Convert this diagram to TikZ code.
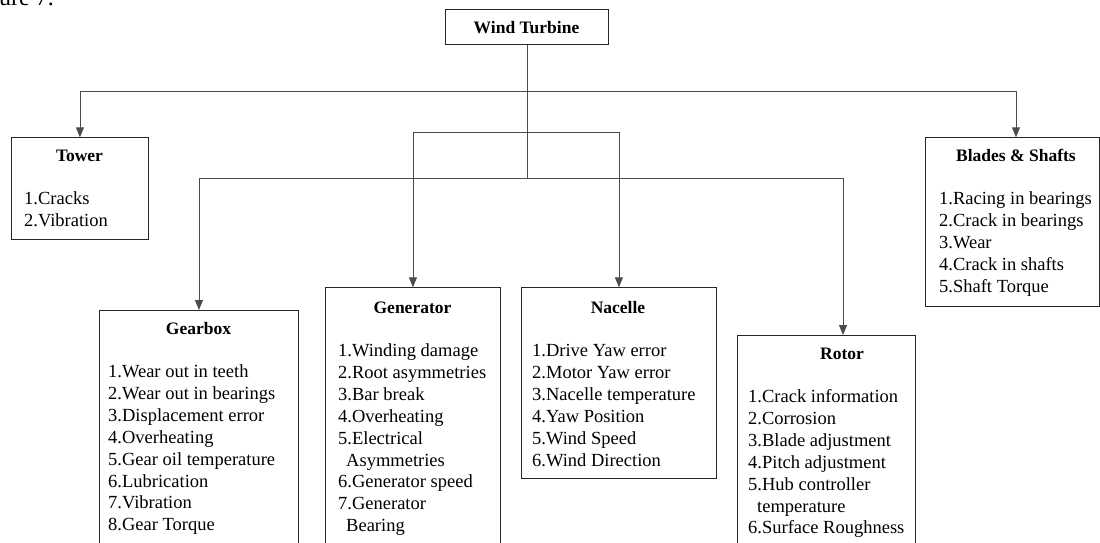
\documentclass[tikz,border=0pt]{standalone}
\usepackage{fontspec}
\setmainfont{Liberation Serif}
\usetikzlibrary{arrows.meta,calc}
\begin{document}
\begin{tikzpicture}[x=1pt,y=-1pt,
  box/.style={draw=black!85, line width=0.9pt, inner sep=0pt, anchor=north west},
  conn/.style={draw=black!70, line width=0.9pt},
  arr/.style={conn, -{Triangle[length=10pt,width=8pt]}},
  ttl/.style={font=\fontsize{17.5}{20}\selectfont\bfseries, inner sep=0pt, anchor=base},
  item/.style={font=\fontsize{18.5}{21.9}\selectfont, inner sep=0pt, anchor=base west},
  captxt/.style={font=\fontsize{24}{28}\selectfont, inner sep=0pt, anchor=base west}]
\useasboundingbox (0,0) rectangle (1100,542);
\clip (0,0) rectangle (1100,542);

% caption fragment
\node[captxt] (capfrag) at (-1,5) {ure 7.};

% boxes
\node[box, minimum width=163pt, minimum height=35pt] (wt) at (445,9) {};
\node[box, minimum width=137.6pt, minimum height=102pt] (tower) at (10.7,137.3) {};
\node[box, minimum width=174pt, minimum height=168.7pt] (blades) at (925,137.3) {};
\node[box, minimum width=199pt, minimum height=260pt] (gear) at (99,310) {};
\node[box, minimum width=175pt, minimum height=280pt] (gen) at (325,287.3) {};
\node[box, minimum width=195pt, minimum height=191pt] (nac) at (521,287.3) {};
\node[box, minimum width=178pt, minimum height=230pt] (rotor) at (737,335) {};

% titles
\node[ttl] (wt-t) at (526.5,33) {Wind Turbine};
\node[ttl] (tower-t) at (79.5,161) {Tower};
\node[ttl] (blades-t) at (1016,161) {Blades \& Shafts};
\node[ttl] (gear-t) at (198.5,334) {Gearbox};
\node[ttl] (gen-t) at (412.5,313) {Generator};
\node[ttl] (nac-t) at (618,313) {Nacelle};
\node[ttl] (rotor-t) at (842,359) {Rotor};

% item lists
\foreach \t [count=\i] in {1.Cracks, 2.Vibration}
  \node[item] (tw\i) at (24,{204.5+21.9*(\i-1)}) {\t};
\foreach \t [count=\i] in {1.Racing in bearings, 2.Crack in bearings, 3.Wear, 4.Crack in shafts, 5.Shaft Torque}
  \node[item] (bl\i) at (939,{204.5+21.9*(\i-1)}) {\t};
\foreach \t [count=\i] in {1.Wear out in teeth, 2.Wear out in bearings, 3.Displacement error, 4.Overheating, 5.Gear oil temperature, 6.Lubrication, 7.Vibration, 8.Gear Torque}
  \node[item] (gb\i) at (108,{377.5+21.9*(\i-1)}) {\t};
\foreach \t [count=\i] in {1.Winding damage, 2.Root asymmetries, 3.Bar break, 4.Overheating, 5.Electrical, \hspace*{8pt}Asymmetries, 6.Generator speed, 7.Generator, \hspace*{8pt}Bearing}
  \node[item] (gn\i) at (338,{356.5+21.9*(\i-1)}) {\t};
\foreach \t [count=\i] in {1.Drive Yaw error, 2.Motor Yaw error, 3.Nacelle temperature, 4.Yaw Position, 5.Wind Speed, 6.Wind Direction}
  \node[item] (nc\i) at (532,{356.5+21.9*(\i-1)}) {\t};
\foreach \t [count=\i] in {1.Crack information, 2.Corrosion, 3.Blade adjustment, 4.Pitch adjustment, 5.Hub controller, \hspace*{9pt}temperature, 6.Surface Roughness}
  \node[item] (rt\i) at (748,{402.5+21.9*(\i-1)}) {\t};

% connector junctions
\coordinate (j1) at (wt.south |- 0,91);
\coordinate (j2) at (wt.south |- 0,132);
\coordinate (j3) at (wt.south |- 0,178);
\coordinate (bladesin) at ($(blades.north west)+(91,0)$);
\coordinate (rotorin) at ($(rotor.north west)+(106,0)$);

% connectors
\draw[conn] (wt.south) -- (j3);
\draw[arr] (j1) -| (tower.north);
\draw[arr] (j1) -| (bladesin);
\draw[arr] (j2) -| (gen.north);
\draw[arr] (j2) -| (nac.north);
\draw[arr] (j3) -| (gear.north);
\draw[arr] (j3) -| (rotorin);
\end{tikzpicture}
\end{document}
